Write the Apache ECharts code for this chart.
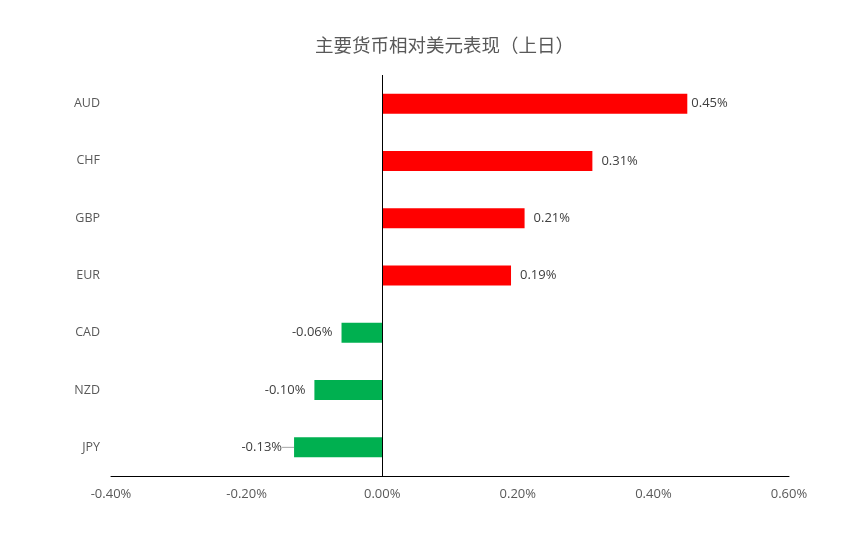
<!DOCTYPE html>
<html>
<head>
<meta charset="utf-8">
<script src="https://cdn.jsdelivr.net/npm/echarts@6/dist/echarts.min.js"></script>
<style>
  html, body { margin: 0; padding: 0; background: #fff; }
  #main { width: 856px; height: 540px; }
</style>
</head>
<body>
<div id="main"></div>
<script>
// currencies bottom to top (category axis runs upward)
var currencies = ['JPY', 'NZD', 'CAD', 'EUR', 'GBP', 'CHF', 'AUD'];
var changes = [-0.13, -0.10, -0.06, 0.19, 0.21, 0.31, 0.45];
var xTicks = [-0.4, -0.2, 0, 0.2, 0.4, 0.6];

var myChart = echarts.init(document.getElementById('main'));

var items = changes.map(function (v, i) {
  var pos = v >= 0;
  var c = currencies[i];
  return {
    value: v,
    itemStyle: { color: pos ? '#FF0000' : '#00B050' },
    label: {
      position: pos ? 'right' : 'left',
      distance: c === 'AUD' ? 4 : (c === 'JPY' ? 2 : 9)
    },
    labelLine: { show: c === 'JPY' }
  };
});

myChart.setOption({
  animation: false,
  title: {
    text: '主要货币相对美元表现（上日）',
    left: 310,
    top: 31,
    textStyle: {
      fontFamily: 'Noto Sans CJK SC',
      fontSize: 18.5,
      fontWeight: 'normal',
      color: '#595959'
    }
  },
  grid: { left: 111, right: 67, top: 75, bottom: 64 },
  xAxis: {
    type: 'value',
    min: xTicks[0],
    max: xTicks[xTicks.length - 1],
    interval: 0.2,
    axisLine: { show: true, onZero: false, lineStyle: { color: '#000', width: 1 } },
    axisTick: { show: false },
    splitLine: { show: false },
    axisLabel: {
      margin: 12,
      color: '#595959',
      fontFamily: 'Open Sans',
      fontSize: 13,
      formatter: function (v) { return v.toFixed(2) + '%'; }
    }
  },
  yAxis: {
    type: 'category',
    data: currencies,
    axisLine: { show: false, onZero: false },
    axisTick: { show: false },
    axisLabel: {
      margin: 11,
      color: '#595959',
      fontFamily: 'Open Sans',
      fontSize: 12.5
    }
  },
  series: [{
    type: 'bar',
    data: items,
    barWidth: 20,
    label: {
      show: true,
      color: '#404040',
      fontFamily: 'Open Sans',
      fontSize: 13,
      formatter: function (p) { return p.value.toFixed(2) + '%'; }
    },
    labelLayout: function (p) {
      if (p.dataIndex === 0) return { dx: -10 };
    },
    labelLine: { length2: 0, lineStyle: { color: '#A6A6A6', width: 1 } },
    markLine: {
      silent: true,
      symbol: 'none',
      label: { show: false },
      lineStyle: { color: '#000', width: 1, type: 'solid' },
      data: [{ xAxis: 0 }]
    }
  }]
});
</script>
</body>
</html>
